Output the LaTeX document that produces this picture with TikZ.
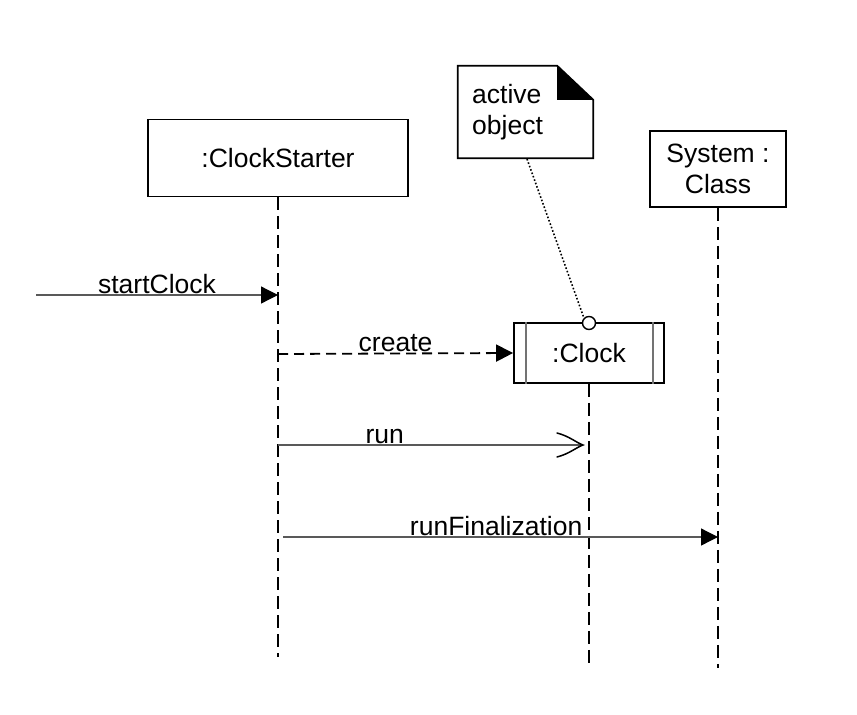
\documentclass[tikz,border=0pt]{standalone}
\usepackage{fontspec}
\setmainfont{Liberation Sans}
\usetikzlibrary{arrows.meta}
\begin{document}
\begin{tikzpicture}[x=1pt,y=-1pt,
  every node/.style={font=\fontsize{26.5}{31}\selectfont},
  objbox/.style={draw=black, line width=1.8pt, rectangle, inner sep=0pt},
  lifeline/.style={draw=black, line width=1.8pt, dash pattern=on 13pt off 6pt},
  msg/.style={draw=black!65, line width=1.3pt},
  filled/.style={-{Triangle[length=17pt,width=17pt,color=black]}},
  barb/.style={draw=black, line width=1.5pt, line cap=round},
  lbl/.style={inner sep=1pt, anchor=south}
]
\useasboundingbox (0,0) rectangle (857,715);

% objects
\node[objbox, minimum width=260pt, minimum height=77pt] (cs) at (278,158) {:ClockStarter};
\node[objbox, minimum width=136pt, minimum height=76pt, align=center] (sys) at (718,169) {System :\\Class};
\node[objbox, minimum width=150pt, minimum height=60pt] (clk) at (589,353) {:Clock};
\draw[black!55, line width=1.3pt] ([xshift=13pt]clk.north west) -- ([xshift=13pt]clk.south west);
\draw[black!55, line width=1.3pt] ([xshift=-12pt]clk.north east) -- ([xshift=-12pt]clk.south east);

% note
\node[minimum width=135pt, minimum height=92pt, inner sep=0pt] (note) at (525.5,112) {};
\draw[black, line width=1.8pt] (note.north west) -- ([xshift=-36pt]note.north east)
  -- ([yshift=-34pt]note.north east) -- (note.south east) -- (note.south west) -- cycle;
\fill[black] ([xshift=-36pt]note.north east) -- ([xshift=-36pt,yshift=-34pt]note.north east)
  -- ([yshift=-34pt]note.north east) -- cycle;
\node[anchor=west, align=left, inner sep=0pt] (notetext) at (472,112) {active\\object};

% lifelines
\coordinate (csend) at (278,657);
\coordinate (clkend) at (589,668);
\coordinate (sysend) at (718,668);
\draw[lifeline] (cs.south) -- (csend);
\draw[lifeline] (clk.south) -- (clkend);
\draw[lifeline] (sys.south) -- (sysend);

% active object link
\node[draw=black, line width=1.4pt, circle, minimum size=13pt, inner sep=0pt, fill=white] (circ) at (589,323) {};
\draw[black, line width=1.6pt, dotted] (527,159) -- (circ.north west);

% messages
\coordinate (m0s) at (36,295);
\coordinate (m0e) at (278,295);
\draw[msg, filled] (m0s) -- node[lbl, black, pos=0.5] (l0) {startClock} (m0e);

\coordinate (m1s) at (278,354);
\draw[black, line width=1.8pt, dash pattern=on 10pt off 6pt, filled] (m1s) -- node[lbl, pos=0.5] (l1) {create} (clk.west);

\coordinate (m2s) at (278,445);
\coordinate (m2e) at (583,445);
\draw[msg] (m2s) -- node[lbl, pos=0.35] (l2) {run} (m2e);
\draw[barb] ([xshift=-26pt,yshift=12pt]m2e) .. controls ([xshift=-14pt,yshift=9pt]m2e) and ([xshift=-6pt,yshift=2pt]m2e) .. (m2e)
  .. controls ([xshift=-6pt,yshift=-2pt]m2e) and ([xshift=-14pt,yshift=-9pt]m2e) .. ([xshift=-26pt,yshift=-12pt]m2e);

\coordinate (m3s) at (283,537);
\coordinate (m3e) at (718,537);
\draw[msg, filled] (m3s) -- node[lbl, pos=0.49] (l3) {runFinalization} (m3e);
\end{tikzpicture}
\end{document}
